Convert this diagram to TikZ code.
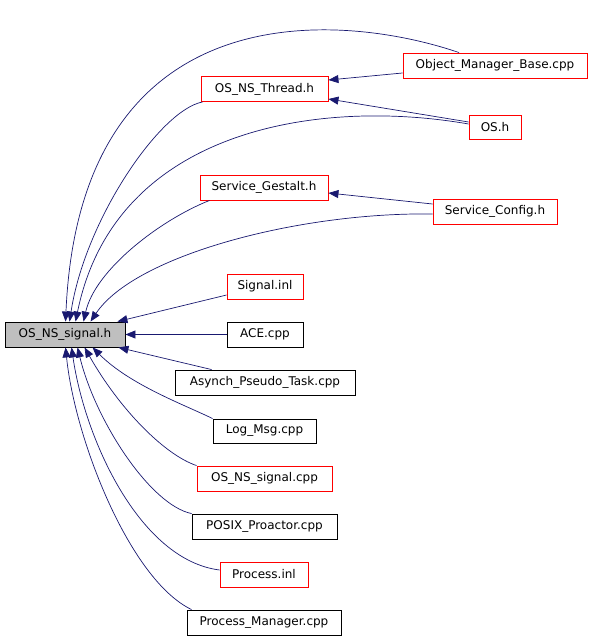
\documentclass[tikz,border=0pt]{standalone}
\usepackage{fontspec}
\setmainfont{DejaVu Sans}
\usetikzlibrary{arrows.meta}
\definecolor{edgeblue}{RGB}{25,25,112}
\definecolor{nodegray}{RGB}{191,191,191}
\tikzset{
  box/.style={draw, line width=0.9pt, inner sep=0pt, minimum height=25pt, font=\fontsize{12}{14}\selectfont},
  redbox/.style={box, draw=red},
  blackbox/.style={box, draw=black},
  edge/.style={draw=edgeblue, line width=0.7pt, -{Triangle[length=10pt,width=8pt]}},
}
\begin{document}
\begin{tikzpicture}[x=1pt,y=-1pt]
\useasboundingbox (0,0) rectangle (592,639);
\node[blackbox, fill=nodegray, minimum width=120pt] (sig) at (65,334.5) {OS\_NS\_signal.h};
\node[redbox, minimum width=184pt] (omb) at (495,65.5) {Object\_Manager\_Base.cpp};
\node[redbox, minimum width=127pt] (thr) at (264.5,89) {OS\_NS\_Thread.h};
\node[redbox, minimum width=52pt, minimum height=24pt] (osh) at (495,127) {OS.h};
\node[redbox, minimum width=128pt] (sg) at (264,187.5) {Service\_Gestalt.h};
\node[redbox, minimum width=124pt] (sc) at (495,211.5) {Service\_Config.h};
\node[redbox, minimum width=76pt] (sinl) at (265,286.5) {Signal.inl};
\node[blackbox, minimum width=76pt] (ace) at (265,334.5) {ACE.cpp};
\node[blackbox, minimum width=180pt] (apt) at (265,382.5) {Asynch\_Pseudo\_Task.cpp};
\node[blackbox, minimum width=103pt, minimum height=24pt] (log) at (264.5,431) {Log\_Msg.cpp};
\node[redbox, minimum width=135pt] (oss) at (264.5,478.5) {OS\_NS\_signal.cpp};
\node[blackbox, minimum width=145pt] (posix) at (264.5,526.5) {POSIX\_Proactor.cpp};
\node[redbox, minimum width=88pt] (pinl) at (264,574.5) {Process.inl};
\node[blackbox, minimum width=154pt] (pm) at (264,622.5) {Process\_Manager.cpp};

% edges among upper nodes
\draw[edge] ([yshift=-7.5]omb.west) -- ([yshift=9]thr.east);
\draw[edge] ([yshift=5]osh.west) -- ([yshift=-10]thr.east);
\draw[edge] ([yshift=7.5]sc.west) -- ([yshift=-5.5]sg.east);

% edges into OS_NS_signal.h from above
\draw[edge] ([xshift=-36]omb.north) .. controls (340,12) and (80,-10) .. ([xshift=61]sig.north west);
\draw[edge] ([xshift=2]thr.south west) .. controls (160,110) and (85,220) .. ([xshift=65]sig.north west);
\draw[edge] ([yshift=3]osh.west) .. controls (320,98) and (115,128) .. ([xshift=71]sig.north west);
\draw[edge] ([xshift=10]sg.south west) .. controls (160,220) and (95,270) .. ([xshift=79]sig.north west);
\draw[edge] ([yshift=-2.5]sc.west) .. controls (300,212) and (135,255) .. ([xshift=86]sig.north west);
\draw[edge] ([yshift=-8.5]sinl.west) -- ([xshift=-8]sig.north east);
\draw[edge] (ace.west) -- (sig.east);
\draw[edge] ([xshift=37]apt.north west) -- ([xshift=-7]sig.south east);

% edges into OS_NS_signal.h from below
\draw[edge] (log.north west) .. controls (185,405) and (130,385) .. ([xshift=88]sig.south west);
\draw[edge] (oss.north west) .. controls (165,455) and (120,410) .. ([xshift=80]sig.south west);
\draw[edge] (posix.north west) .. controls (150,505) and (95,420) .. ([xshift=73]sig.south west);
\draw[edge] ([yshift=4.5]pinl.west) .. controls (140,560) and (85,440) .. ([xshift=67]sig.south west);
\draw[edge] ([xshift=5]pm.north west) .. controls (130,580) and (75,440) .. ([xshift=61]sig.south west);
\end{tikzpicture}
\end{document}
